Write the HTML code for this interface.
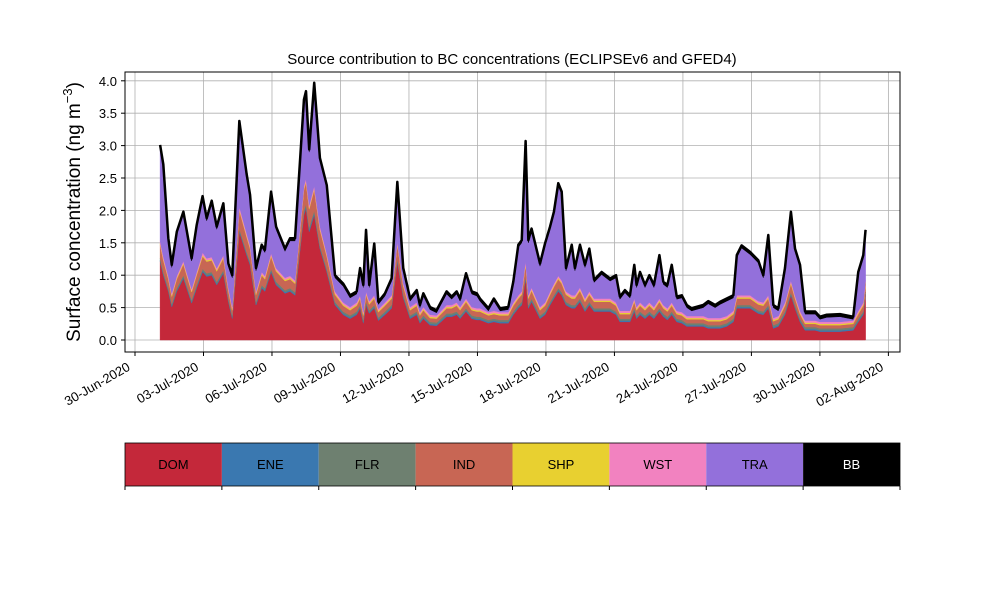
<!DOCTYPE html>
<html><head><meta charset="utf-8"><style>
html,body{margin:0;padding:0;background:#fff;}
svg{display:block;font-family:"Liberation Sans","DejaVu Sans",sans-serif;}
</style></head><body>
<svg id="chart" width="1000" height="600" viewBox="0 0 1000 600">
<text x="512" y="64" text-anchor="middle" font-size="15">Source contribution to BC concentrations (ECLIPSEv6 and GFED4)</text>
<g id="grid"></g>
<g id="areas"></g>
<rect x="125" y="72" width="775" height="280" fill="none" stroke="#000" stroke-width="1"/>
<g id="yaxis"></g>
<g id="xaxis"></g>
<text transform="translate(80,212) rotate(-90)" text-anchor="middle" font-size="19">Surface concentration (ng m<tspan font-size="13" dy="-8">−3</tspan><tspan dy="8">)</tspan></text>
<g id="legend"></g>
</svg>
<script>
const seriesNames = ["DOM","ENE","FLR","IND","SHP","WST","TRA","BB"];
const seriesColors = ["#c4283a","#3a78b0","#6e8070","#c86654","#e8d030","#f282c0","#9370db","#000000"];
const dayOffsets = [1.10,1.24,1.46,1.61,1.83,2.12,2.48,2.70,2.96,3.14,3.36,3.58,3.87,4.09,4.26,4.57,4.89,5.04,5.30,5.55,5.69,5.96,6.18,6.57,6.79,7.01,7.40,7.49,7.63,7.85,8.10,8.40,8.76,9.12,9.42,9.71,9.86,10.00,10.12,10.26,10.48,10.66,10.95,11.24,11.49,11.75,12.05,12.34,12.48,12.63,12.92,13.21,13.65,13.87,14.09,14.24,14.50,14.75,14.97,15.11,15.48,15.72,15.99,16.35,16.57,16.79,16.94,17.11,17.23,17.37,17.74,17.96,18.18,18.35,18.54,18.69,18.88,19.13,19.27,19.49,19.71,19.90,20.11,20.44,20.81,21.07,21.24,21.46,21.68,21.87,21.97,22.12,22.34,22.53,22.73,22.97,23.14,23.32,23.51,23.73,23.95,24.17,24.38,24.89,25.11,25.41,25.63,25.92,26.21,26.36,26.57,26.94,27.30,27.52,27.74,27.96,28.18,28.47,28.73,28.91,29.13,29.35,29.79,30.00,30.30,30.88,31.46,31.68,31.90,32.00];
const DOM = [1.21,1.00,0.75,0.51,0.75,0.95,0.57,0.80,1.05,0.98,1.00,0.85,1.03,0.59,0.33,1.67,1.31,1.16,0.54,0.80,0.75,1.05,0.85,0.72,0.75,0.69,1.93,2.03,1.67,1.93,1.41,1.05,0.54,0.39,0.33,0.39,0.49,0.26,0.54,0.41,0.49,0.30,0.39,0.49,1.21,0.65,0.33,0.39,0.26,0.33,0.23,0.22,0.36,0.36,0.39,0.33,0.44,0.33,0.31,0.31,0.26,0.28,0.26,0.26,0.39,0.49,0.54,0.95,0.49,0.59,0.33,0.39,0.54,0.64,0.75,0.69,0.54,0.49,0.49,0.59,0.44,0.54,0.44,0.44,0.44,0.39,0.28,0.28,0.28,0.44,0.33,0.39,0.33,0.39,0.33,0.44,0.36,0.31,0.39,0.28,0.26,0.21,0.21,0.21,0.18,0.18,0.18,0.21,0.28,0.49,0.49,0.49,0.41,0.39,0.49,0.18,0.21,0.39,0.69,0.49,0.28,0.15,0.15,0.13,0.13,0.13,0.15,0.28,0.39,0.69];
const IND = [0.21,0.18,0.14,0.11,0.14,0.17,0.12,0.15,0.19,0.18,0.18,0.16,0.18,0.12,0.08,0.28,0.23,0.20,0.11,0.15,0.14,0.19,0.16,0.14,0.14,0.13,0.32,0.33,0.28,0.32,0.24,0.19,0.11,0.09,0.08,0.09,0.10,0.07,0.11,0.09,0.10,0.08,0.09,0.10,0.21,0.13,0.08,0.09,0.07,0.08,0.06,0.06,0.08,0.08,0.09,0.08,0.10,0.08,0.08,0.08,0.07,0.07,0.07,0.07,0.09,0.10,0.11,0.17,0.10,0.12,0.08,0.09,0.11,0.13,0.14,0.13,0.11,0.10,0.10,0.12,0.10,0.11,0.10,0.10,0.10,0.09,0.07,0.07,0.07,0.10,0.08,0.09,0.08,0.09,0.08,0.10,0.08,0.08,0.09,0.07,0.07,0.06,0.06,0.06,0.06,0.06,0.06,0.06,0.07,0.10,0.10,0.10,0.09,0.09,0.10,0.06,0.06,0.09,0.13,0.10,0.07,0.05,0.05,0.05,0.05,0.05,0.05,0.07,0.09,0.13];
const TRA = [1.44,1.38,0.54,0.40,0.64,0.72,0.43,0.68,0.83,0.58,0.83,0.60,0.76,0.33,0.45,1.28,0.87,0.74,0.32,0.38,0.36,0.91,0.60,0.41,0.54,0.61,1.29,1.31,0.82,1.55,1.01,1.01,0.21,0.25,0.14,0.13,0.38,0.38,0.91,0.21,0.76,0.07,0.10,0.22,0.88,0.19,0.09,0.15,0.07,0.17,0.08,0.04,0.17,0.09,0.13,0.09,0.35,0.20,0.19,0.11,0.02,0.15,0.02,0.04,0.28,0.74,0.75,1.80,0.81,0.87,0.63,0.87,0.96,1.07,1.39,1.33,0.32,0.74,0.38,0.62,0.48,0.62,0.25,0.37,0.27,0.38,0.18,0.28,0.20,0.48,0.30,0.43,0.30,0.38,0.30,0.63,0.32,0.32,0.54,0.18,0.22,0.13,0.08,0.13,0.22,0.16,0.21,0.23,0.20,0.58,0.73,0.63,0.59,0.38,0.89,0.16,0.08,0.49,1.02,0.68,0.67,0.10,0.10,0.04,0.07,0.08,0.02,0.56,0.69,0.74];
const ENE = [0.02,0.02,0.02,0.02,0.02,0.02,0.02,0.02,0.02,0.02,0.02,0.02,0.02,0.02,0.02,0.02,0.02,0.02,0.02,0.02,0.02,0.02,0.02,0.02,0.02,0.02,0.03,0.03,0.03,0.03,0.02,0.02,0.02,0.02,0.02,0.02,0.02,0.02,0.02,0.02,0.02,0.02,0.02,0.02,0.02,0.02,0.02,0.02,0.02,0.02,0.02,0.02,0.02,0.02,0.02,0.02,0.02,0.02,0.02,0.02,0.02,0.02,0.02,0.02,0.02,0.02,0.02,0.02,0.02,0.02,0.02,0.02,0.02,0.02,0.02,0.02,0.02,0.02,0.02,0.02,0.02,0.02,0.02,0.02,0.02,0.02,0.02,0.02,0.02,0.02,0.02,0.02,0.02,0.02,0.02,0.02,0.02,0.02,0.02,0.02,0.02,0.02,0.02,0.02,0.02,0.02,0.02,0.02,0.02,0.02,0.02,0.02,0.02,0.02,0.02,0.02,0.02,0.02,0.02,0.02,0.02,0.02,0.02,0.02,0.02,0.02,0.02,0.02,0.02,0.02];
const FLR = [0.03,0.03,0.03,0.03,0.03,0.03,0.03,0.03,0.03,0.03,0.03,0.03,0.03,0.03,0.03,0.03,0.03,0.03,0.03,0.03,0.03,0.03,0.03,0.03,0.03,0.03,0.04,0.04,0.04,0.04,0.03,0.03,0.03,0.03,0.03,0.03,0.03,0.03,0.03,0.03,0.03,0.03,0.03,0.03,0.03,0.03,0.03,0.03,0.03,0.03,0.03,0.03,0.03,0.03,0.03,0.03,0.03,0.03,0.03,0.03,0.03,0.03,0.03,0.03,0.03,0.03,0.03,0.03,0.03,0.03,0.03,0.03,0.03,0.03,0.03,0.03,0.03,0.03,0.03,0.03,0.03,0.03,0.03,0.03,0.03,0.03,0.03,0.03,0.03,0.03,0.03,0.03,0.03,0.03,0.03,0.03,0.03,0.03,0.03,0.03,0.03,0.03,0.03,0.03,0.03,0.03,0.03,0.03,0.03,0.03,0.03,0.03,0.03,0.03,0.03,0.03,0.03,0.03,0.03,0.03,0.03,0.03,0.03,0.03,0.03,0.03,0.03,0.03,0.03,0.03];
const SHP = [0.02,0.02,0.02,0.02,0.02,0.02,0.02,0.02,0.02,0.02,0.02,0.02,0.02,0.02,0.02,0.02,0.02,0.02,0.02,0.02,0.02,0.02,0.02,0.02,0.02,0.02,0.02,0.02,0.02,0.02,0.02,0.02,0.02,0.02,0.02,0.02,0.02,0.02,0.02,0.02,0.02,0.02,0.02,0.02,0.02,0.02,0.02,0.02,0.02,0.02,0.02,0.02,0.02,0.02,0.02,0.02,0.02,0.02,0.02,0.02,0.02,0.02,0.02,0.02,0.02,0.02,0.02,0.02,0.02,0.02,0.02,0.02,0.02,0.02,0.02,0.02,0.02,0.02,0.02,0.02,0.02,0.02,0.02,0.02,0.02,0.02,0.02,0.02,0.02,0.02,0.02,0.02,0.02,0.02,0.02,0.02,0.02,0.02,0.02,0.02,0.02,0.02,0.02,0.02,0.02,0.02,0.02,0.02,0.02,0.02,0.02,0.02,0.02,0.02,0.02,0.02,0.02,0.02,0.02,0.02,0.02,0.02,0.02,0.02,0.02,0.02,0.02,0.02,0.02,0.02];
const WST = [0.04,0.04,0.03,0.03,0.03,0.03,0.03,0.03,0.04,0.03,0.03,0.03,0.03,0.03,0.03,0.04,0.04,0.03,0.03,0.03,0.03,0.03,0.03,0.03,0.03,0.03,0.04,0.04,0.04,0.04,0.04,0.03,0.03,0.03,0.03,0.03,0.03,0.03,0.03,0.03,0.03,0.03,0.03,0.03,0.03,0.03,0.03,0.03,0.03,0.03,0.03,0.03,0.03,0.03,0.03,0.03,0.03,0.03,0.03,0.03,0.03,0.03,0.03,0.03,0.03,0.03,0.03,0.04,0.03,0.03,0.03,0.03,0.03,0.03,0.03,0.03,0.03,0.03,0.03,0.03,0.03,0.03,0.03,0.03,0.03,0.03,0.03,0.03,0.03,0.03,0.03,0.03,0.03,0.03,0.03,0.03,0.03,0.03,0.03,0.03,0.03,0.03,0.03,0.03,0.03,0.03,0.03,0.03,0.03,0.03,0.03,0.03,0.03,0.03,0.03,0.03,0.03,0.03,0.03,0.03,0.03,0.03,0.03,0.03,0.03,0.03,0.03,0.03,0.03,0.03];
const BB = [0.04,0.04,0.04,0.04,0.04,0.04,0.04,0.04,0.04,0.04,0.04,0.04,0.04,0.04,0.04,0.04,0.04,0.04,0.04,0.04,0.04,0.04,0.04,0.04,0.04,0.04,0.04,0.04,0.04,0.04,0.04,0.04,0.04,0.04,0.04,0.04,0.04,0.04,0.04,0.04,0.04,0.04,0.04,0.04,0.04,0.04,0.04,0.04,0.04,0.04,0.04,0.04,0.04,0.04,0.04,0.04,0.04,0.04,0.04,0.04,0.04,0.04,0.04,0.04,0.04,0.04,0.04,0.04,0.04,0.04,0.04,0.04,0.04,0.04,0.04,0.04,0.04,0.04,0.04,0.04,0.04,0.04,0.04,0.04,0.04,0.04,0.04,0.04,0.04,0.04,0.04,0.04,0.04,0.04,0.04,0.04,0.04,0.04,0.04,0.04,0.04,0.04,0.04,0.04,0.04,0.04,0.04,0.04,0.04,0.04,0.04,0.04,0.04,0.04,0.04,0.04,0.04,0.04,0.04,0.04,0.04,0.04,0.04,0.04,0.04,0.04,0.04,0.04,0.04,0.04,0.04,0.04];
const yTicks = [0,0.5,1,1.5,2,2.5,3,3.5,4];
const yTickLabels = ["0.0","0.5","1.0","1.5","2.0","2.5","3.0","3.5","4.0"];
const xTickDays = [0,3,6,9,12,15,18,21,24,27,30,33];
const xTickLabels = ["30-Jun-2020","03-Jul-2020","06-Jul-2020","09-Jul-2020","12-Jul-2020","15-Jul-2020","18-Jul-2020","21-Jul-2020","24-Jul-2020","27-Jul-2020","30-Jul-2020","02-Aug-2020"];

const NS="http://www.w3.org/2000/svg";
const xScale = d => 135 + d*22.83;
const yScale = v => 340 - v*64.8;
function mk(tag, attrs, parent){const e=document.createElementNS(NS,tag);for(const k in attrs)e.setAttribute(k,attrs[k]);parent.appendChild(e);return e;}
const grid=document.getElementById('grid'), yaxis=document.getElementById('yaxis'), xaxis=document.getElementById('xaxis');
yTicks.forEach((v,i)=>{
  const y=yScale(v);
  const g=mk('line',{x1:125,x2:900,y1:y,y2:y,stroke:'#b0b0b0','stroke-width':0.8},grid);
  
  
  const t=mk('line',{x1:121,x2:125,y1:y,y2:y,stroke:'#000'},yaxis);
  
  
  const l=mk('text',{x:117,y:y+5,'text-anchor':'end','font-size':13},yaxis);
  l.textContent=yTickLabels[i];
  
  
});
xTickDays.forEach((d,i)=>{
  const x=xScale(d);
  const g=mk('line',{x1:x,x2:x,y1:72,y2:352,stroke:'#b0b0b0','stroke-width':0.8},grid);
  
  
  const t=mk('line',{x1:x,x2:x,y1:352,y2:356,stroke:'#000'},xaxis);
  
  
  const l=mk('text',{transform:`translate(${x-6},${366}) rotate(-30)`,'text-anchor':'end','font-size':13,y:4},xaxis);
  l.textContent=xTickLabels[i];
  
  
});
const layers=[DOM,ENE,FLR,IND,SHP,WST,TRA,BB];
const n=dayOffsets.length;
const val=(arr,i)=>Math.max(0,(arr[i]!==undefined?arr[i]:arr[arr.length-1]));
let base=new Array(n).fill(0);
const areas=document.getElementById('areas');
layers.forEach((arr,li)=>{
  const top=base.map((b,i)=>b+val(arr,i));
  let d='M'+dayOffsets.map((t,i)=>xScale(t).toFixed(2)+','+yScale(top[i]).toFixed(2)).join('L');
  for(let i=n-1;i>=0;i--) d+='L'+xScale(dayOffsets[i]).toFixed(2)+','+yScale(base[i]).toFixed(2);
  d+='Z';
  const p=mk('path',{d:d,fill:seriesColors[li],stroke:seriesColors[li],'stroke-width':0.5},areas);
  
  
  if(li===layers.length-1){
    const ln=mk('path',{d:'M'+dayOffsets.map((t,i)=>xScale(t).toFixed(2)+','+yScale(top[i]).toFixed(2)).join('L'),fill:'none',stroke:'#000','stroke-width':2.5,'stroke-linejoin':'round'},areas);
    
    
  }
  base=top;
});
const legend=document.getElementById('legend');
const lw=775/seriesNames.length;
seriesNames.forEach((nm,i)=>{
  const x=125+i*lw;
  const r=mk('rect',{x:x,y:443,width:lw,height:43,fill:seriesColors[i]},legend);
  
  
  const t=mk('text',{x:x+lw/2,y:469,'text-anchor':'middle','font-size':13,fill:nm==='BB'?'#fff':'#000'},legend);
  t.textContent=nm;
  
  
});
for(let i=0;i<=seriesNames.length;i++){
  const x=125+i*lw;
  const tk=mk('line',{x1:x,x2:x,y1:486,y2:490,stroke:'#000'},legend);
  
  
}
const fr=mk('rect',{x:125,y:443,width:775,height:43,fill:'none',stroke:'#000','stroke-width':0.8},legend);


</script>
</body></html>
